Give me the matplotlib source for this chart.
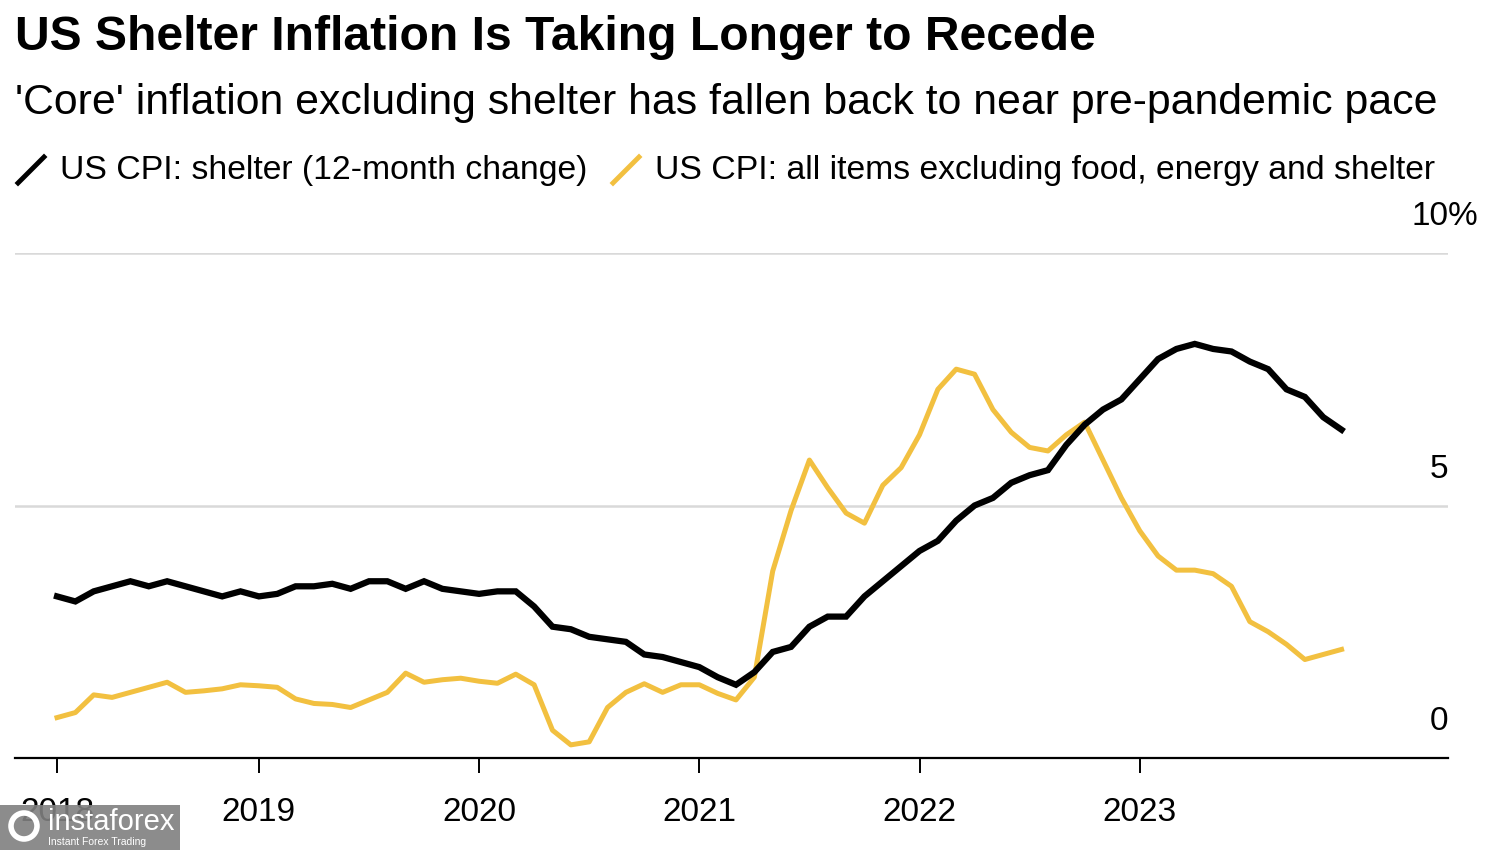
"""US shelter inflation vs core ex-shelter CPI"""
import matplotlib
matplotlib.use('Agg')
import matplotlib.pyplot as plt
import matplotlib.font_manager as fm
from matplotlib.lines import Line2D
from matplotlib.patches import Rectangle, Ellipse

# Font setup
available = {f.name for f in fm.fontManager.ttflist}
FONT = 'Liberation Sans Narrow' if 'Liberation Sans Narrow' in available else 'Liberation Sans'
plt.rcParams['font.family'] = [FONT, 'DejaVu Sans']

# Colors
BLACK = '#000000'
YELLOW = '#F2C040'
GRID = '#D9D9D9'

# Data: monthly 12-month % change, Jan 2018 .. Nov 2023
months = list(range(71))
shelter = [
    3.2, 3.1, 3.3, 3.4, 3.5, 3.4, 3.5, 3.4, 3.3, 3.2, 3.3, 3.2,   # 2018
    3.25, 3.4, 3.4, 3.45, 3.35, 3.5, 3.5, 3.35, 3.5, 3.35, 3.3, 3.25,   # 2019
    3.3, 3.3, 3.0, 2.6, 2.55, 2.4, 2.35, 2.3, 2.05, 2.0, 1.9, 1.8,   # 2020
    1.6, 1.45, 1.7, 2.1, 2.2, 2.6, 2.8, 2.8, 3.2, 3.5, 3.8, 4.1,   # 2021
    4.3, 4.7, 5.0, 5.15, 5.45, 5.6, 5.7, 6.2, 6.6, 6.9, 7.1, 7.5,   # 2022
    7.9, 8.1, 8.2, 8.1, 8.05, 7.85, 7.7, 7.3, 7.15, 6.75, 6.5,   # 2023
]
core_ex_shelter = [
    0.8, 0.9, 1.25, 1.2, 1.3, 1.4, 1.5, 1.3, 1.33, 1.37, 1.45, 1.43,
    1.4, 1.17, 1.08, 1.06, 1.0, 1.15, 1.3, 1.68, 1.5, 1.55, 1.58, 1.52,
    1.48, 1.66, 1.45, 0.55, 0.26, 0.32, 1.0, 1.3, 1.47, 1.3, 1.45, 1.45,
    1.28, 1.15, 1.6, 3.7, 4.9, 5.9, 5.35, 4.85, 4.65, 5.4, 5.75, 6.4,
    7.3, 7.7, 7.6, 6.9, 6.45, 6.15, 6.08, 6.4, 6.65, 5.9, 5.15, 4.5,
    4.0, 3.72, 3.72, 3.65, 3.4, 2.7, 2.5, 2.25, 1.95, 2.05, 2.15,
]
year_ticks = [0, 11, 23, 35, 47, 59]
year_labels = ['2018', '2019', '2020', '2021', '2022', '2023']
y_ticks = [0, 5, 10]
y_labels = ['0', '5', '10%']

W, H = 1500, 850
fig = plt.figure(figsize=(15, 8.5), dpi=100, facecolor='white')
ax = fig.add_axes([15 / W, 1 - 758 / H, 1433 / W, 505 / H])

ax.plot(months, shelter, color=BLACK, lw=4.5, solid_joinstyle='miter', zorder=4)
ax.plot(months, core_ex_shelter, color=YELLOW, lw=3.6, zorder=3)

ax.set_xlim(-2.29, 75.8)
ax.set_ylim(0, 10)

# gridlines at 5 and 10
for v in y_ticks[1:]:
    ax.axhline(v, color=GRID, lw=1.8, zorder=1)

for side in ['top', 'left', 'right']:
    ax.spines[side].set_visible(False)
ax.spines['bottom'].set_linewidth(1.6)

ax.set_xticks(year_ticks)
ax.set_xticklabels(year_labels, fontsize=24)
ax.tick_params(axis='x', length=11, width=1.4, pad=17, color=BLACK)
ax.set_yticks([])

# y labels sit above their gridlines, on the right
for v, lab in zip(y_ticks, y_labels):
    ax.annotate(lab, xy=(1.0, v), xycoords=('axes fraction', 'data'),
                xytext=(22 if lab.endswith('%') else 0, 26), textcoords='offset points',
                ha='right', va='center', fontsize=24)

# Title / subtitle
fig.text(15 / W, 1 - 37 / H, 'US Shelter Inflation Is Taking Longer to Recede',
         fontsize=34.6, fontweight='bold', ha='left', va='center')
fig.text(15 / W, 1 - 103 / H,
         "'Core' inflation excluding shelter has fallen back to near pre-pandemic pace",
         fontsize=30.8, ha='left', va='center')

# Legend
legend_y = 1 - 170 / H
for x0, col, lab in [(18, BLACK, 'US CPI: shelter (12-month change)'),
                     (613, YELLOW, 'US CPI: all items excluding food, energy and shelter')]:
    fig.add_artist(Line2D([x0 / W, (x0 + 26) / W], [1 - 183 / H, 1 - 157 / H],
                          color=col, lw=3.5, transform=fig.transFigure))
    fig.text((x0 + 42) / W, legend_y, lab, fontsize=24.3, ha='left', va='center')

# Watermark
fig.add_artist(Rectangle((0, 0), 180 / W, 45 / H, transform=fig.transFigure,
                         facecolor='#808080', edgecolor='none', alpha=0.9, zorder=10))
fig.add_artist(Ellipse((24 / W, 1 - 826 / H), 26 / W, 26 / H, transform=fig.transFigure,
                       facecolor='none', edgecolor='white', lw=4, zorder=11))
fig.text(48 / W, 1 - 822 / H, 'instaforex', fontsize=21, color='white',
         ha='left', va='center', zorder=11)
fig.text(48 / W, 1 - 842 / H, 'Instant Forex Trading', fontsize=7.5, color='white',
         ha='left', va='center', zorder=11)

fig.savefig('out.png', dpi=100, facecolor='white')
plt.close()
